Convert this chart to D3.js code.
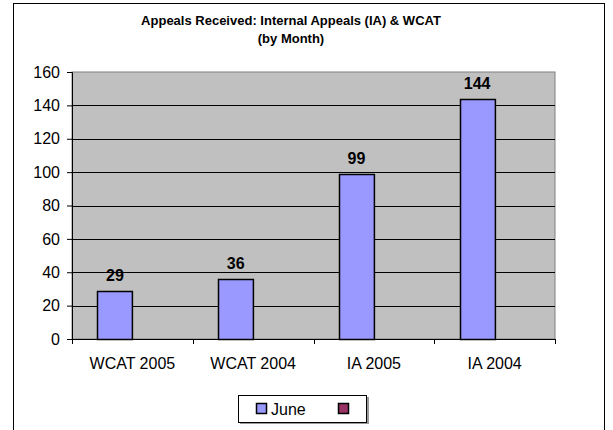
<!DOCTYPE html>
<html>
<head>
<meta charset="utf-8">
<script src="https://cdn.jsdelivr.net/npm/d3@7"></script>
<style>
  body { margin: 0; background: white; }
  text { font-family: "Liberation Sans", Arial, sans-serif; }
</style>
</head>
<body>
<div id="chart"></div>
<script>
let categories = ["WCAT 2005", "WCAT 2004", "IA 2005", "IA 2004"];
let series_names = ["June", ""];
let june_values = [29, 36, 99, 144];
let y_ticks = [0, 20, 40, 60, 80, 100, 120, 140, 160];
let title_lines = ["Appeals Received: Internal Appeals (IA) & WCAT", "(by Month)"];

let color_map = {
    "June": "#9999ff",
    "": "#993366"
};

let chart_width = 613;
let chart_height = 430;

let svg = d3.select("#chart")
    .append("svg")
    .attr("width", chart_width)
    .attr("height", chart_height);

// outer chart frame
svg.append("rect")
    .attr("x", 13.5)
    .attr("y", 3.5)
    .attr("width", 591)
    .attr("height", 440)
    .attr("fill", "white")
    .attr("stroke", "black")
    .attr("stroke-width", 1);

let plot = {left: 72, right: 555, top: 72, bottom: 339};

let xScale = d3.scaleBand()
    .domain(categories)
    .range([plot.left, plot.right]);

let xInner = d3.scaleBand()
    .domain(series_names)
    .range([0, xScale.bandwidth()])
    .paddingOuter(0.73);

let yScale = d3.scaleLinear()
    .domain([0, 160])
    .range([plot.bottom, plot.top]);

// plot background
svg.append("rect")
    .attr("x", plot.left)
    .attr("y", plot.top)
    .attr("width", plot.right - plot.left)
    .attr("height", plot.bottom - plot.top)
    .attr("fill", "#c0c0c0")
    .attr("stroke", "#808080")
    .attr("stroke-width", 1);

// gridlines
svg.append("g")
    .selectAll("line")
    .data(y_ticks.filter(d => d > 0 && d < 160))
    .enter()
    .append("line")
    .attr("x1", plot.left)
    .attr("x2", plot.right)
    .attr("y1", d => Math.round(yScale(d)) + 0.5)
    .attr("y2", d => Math.round(yScale(d)) + 0.5)
    .attr("stroke", "black")
    .attr("stroke-width", 1);

// bars
let bar_data = [];
for (let i = 0; i < categories.length; i++) {
    bar_data.push({"cat": categories[i], "series": "June", "value": june_values[i]});
}

svg.append("g")
    .selectAll("rect")
    .data(bar_data)
    .enter()
    .append("rect")
    .attr("x", d => Math.round(xScale(d.cat) + xInner(d.series)) + 0.5)
    .attr("y", d => Math.round(yScale(d.value)) + 0.5)
    .attr("width", xInner.bandwidth())
    .attr("height", d => Math.round(yScale(0)) - Math.round(yScale(d.value)))
    .attr("fill", d => color_map[d.series])
    .attr("stroke", "black")
    .attr("stroke-width", 1.5);

// value labels
svg.append("g")
    .selectAll("text")
    .data(bar_data)
    .enter()
    .append("text")
    .attr("x", d => xScale(d.cat) + xInner(d.series) + xInner.bandwidth() / 2)
    .attr("y", d => yScale(d.value) - 10)
    .attr("text-anchor", "middle")
    .style("font-size", "16px")
    .style("font-weight", "bold")
    .text(d => d.value);

// y axis
let y_axis = svg.append("g")
    .attr("transform", "translate(" + plot.left + ",0)")
    .call(d3.axisLeft(yScale).tickValues(y_ticks).tickSizeOuter(0).tickSize(5).tickPadding(7));

// x axis
let x_axis = svg.append("g")
    .attr("transform", "translate(0," + plot.bottom + ")")
    .call(d3.axisBottom(xScale).tickSize(0).tickPadding(19));

svg.append("g")
    .selectAll("line")
    .data(d3.range(categories.length + 1))
    .enter()
    .append("line")
    .attr("x1", i => Math.round(plot.left + i * xScale.step()) + 0.5)
    .attr("x2", i => Math.round(plot.left + i * xScale.step()) + 0.5)
    .attr("y1", plot.bottom)
    .attr("y2", plot.bottom + 5)
    .attr("stroke", "black");

[y_axis, x_axis].forEach(function(ax) {
    ax.selectAll("text")
        .style("font-size", "16px")
        .style("font-family", "Liberation Sans, Arial, sans-serif")
        .attr("fill", "black");
    ax.selectAll("line").attr("stroke", "black");
    ax.select(".domain").attr("stroke", "black");
});

// title
svg.append("g")
    .selectAll("text")
    .data(title_lines)
    .enter()
    .append("text")
    .attr("x", 291)
    .attr("y", (d, i) => 25 + i * 18)
    .attr("text-anchor", "middle")
    .style("font-size", "13px")
    .style("font-weight", "bold")
    .text(d => d);

// legend
let legend = svg.append("g").attr("transform", "translate(238,395)");
legend.append("rect")
    .attr("x", 2).attr("y", 2)
    .attr("width", 129).attr("height", 27)
    .attr("fill", "#999");
legend.append("rect")
    .attr("x", 0.5).attr("y", 0.5)
    .attr("width", 128).attr("height", 27)
    .attr("fill", "white")
    .attr("stroke", "black");

let legend_items = legend.selectAll(".legend")
    .data(series_names)
    .enter()
    .append("g")
    .attr("class", "legend")
    .attr("transform", (d, i) => "translate(" + (18 + i * 82) + ",8)");

legend_items.append("rect")
    .attr("x", 0.5).attr("y", 0.5)
    .attr("width", 10).attr("height", 10)
    .attr("fill", d => color_map[d])
    .attr("stroke", "black")
    .attr("stroke-width", 1.5);

legend_items.append("text")
    .attr("x", 15)
    .attr("y", 11.5)
    .style("font-size", "16px")
    .text(d => d);
</script>
</body>
</html>
